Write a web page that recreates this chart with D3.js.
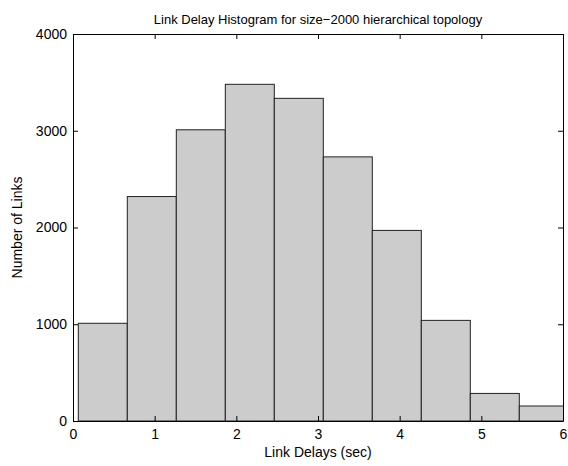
<!DOCTYPE html>
<html>
<head>
<meta charset="utf-8">
<script src="https://cdn.jsdelivr.net/npm/d3@7"></script>
<style>
  body { margin: 0; background: #fff; }
  text { font-family: "Liberation Sans", Arial, sans-serif; fill: #000; }
</style>
</head>
<body>
<svg id="hist"></svg>
<script>
// histogram bins (sec) and counts
const binEdges = [0.065, 0.665, 1.265, 1.865, 2.465, 3.065, 3.665, 4.265, 4.865, 5.465, 6.065];
const counts = [1010, 2320, 3010, 3480, 3335, 2730, 1970, 1040, 285, 155];
const xTicks = [0, 1, 2, 3, 4, 5, 6];
const yTicks = [0, 1000, 2000, 3000, 4000];

const width = 568;
const height = 466;
const margin = { top: 34, right: 5, bottom: 45, left: 73 };

const svg = d3.select('#hist').attr('width', width).attr('height', height);

const x = d3.scaleLinear().domain([0, 6]).range([margin.left, width - margin.right]);
const y = d3.scaleLinear().domain([0, 4000]).range([height - margin.bottom, margin.top]);

svg.append('clipPath')
  .attr('id', 'plot-clip')
  .append('rect')
  .attr('x', margin.left)
  .attr('y', margin.top)
  .attr('width', x(6) - x(0))
  .attr('height', y(0) - y(4000));

const bins = counts.map((c, i) => ({ x0: binEdges[i], x1: binEdges[i + 1], count: c }));

svg.append('g')
  .attr('clip-path', 'url(#plot-clip)')
  .selectAll('.bar')
  .data(bins)
  .enter()
  .append('rect')
  .classed('bar', true)
  .attr('x', d => x(d.x0))
  .attr('y', d => y(d.count))
  .attr('width', d => x(d.x1) - x(d.x0))
  .attr('height', d => y(0) - y(d.count))
  .attr('fill', '#cccccc')
  .attr('stroke', '#222')
  .attr('stroke-width', 1);

// axes, ticks inward on all four sides
const tick = 5;
const fontSize = '14px';

svg.append('g')
  .attr('transform', 'translate(0,' + y(0) + ')')
  .call(d3.axisBottom(x).tickValues(xTicks).tickFormat(d3.format('d')).tickSizeInner(-tick).tickSizeOuter(0).tickPadding(8))
  .call(g => g.selectAll('text').attr('font-size', fontSize).attr('font-family', '"Liberation Sans", Arial, sans-serif'));

svg.append('g')
  .attr('transform', 'translate(0,' + y(4000) + ')')
  .call(d3.axisTop(x).tickValues(xTicks).tickFormat('').tickSizeInner(-tick).tickSizeOuter(0));

svg.append('g')
  .attr('transform', 'translate(' + x(0) + ',0)')
  .call(d3.axisLeft(y).tickValues(yTicks).tickFormat(d3.format('d')).tickSizeInner(-tick).tickSizeOuter(0).tickPadding(6))
  .call(g => g.selectAll('text').attr('font-size', fontSize).attr('font-family', '"Liberation Sans", Arial, sans-serif'));

svg.append('g')
  .attr('transform', 'translate(' + x(6) + ',0)')
  .call(d3.axisRight(y).tickValues(yTicks).tickFormat('').tickSizeInner(-tick).tickSizeOuter(0));

svg.selectAll('.domain, .tick line').attr('stroke', '#000').attr('stroke-width', 1);

svg.append('text')
  .attr('x', (x(0) + x(6)) / 2)
  .attr('y', 24)
  .attr('font-size', '13px')
  .style('text-anchor', 'middle')
  .text('Link Delay Histogram for size\u22122000 hierarchical topology');

svg.append('text')
  .attr('x', (x(0) + x(6)) / 2)
  .attr('y', 457)
  .attr('font-size', fontSize)
  .style('text-anchor', 'middle')
  .text('Link Delays (sec)');

svg.append('text')
  .attr('transform', 'translate(22,' + (y(0) + y(4000)) / 2 + ') rotate(-90)')
  .attr('font-size', fontSize)
  .style('text-anchor', 'middle')
  .text('Number of Links');
</script>
</body>
</html>
